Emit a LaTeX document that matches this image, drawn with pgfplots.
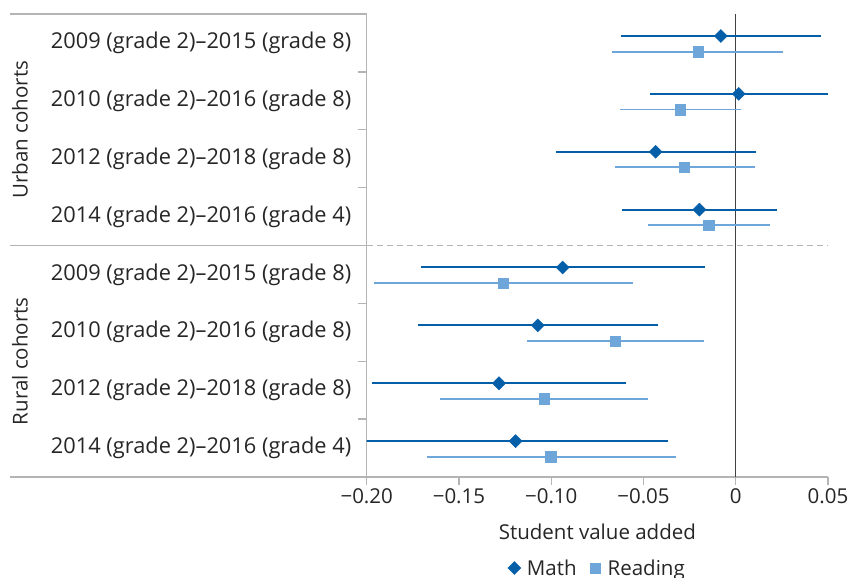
\documentclass[border=0pt]{standalone}
\usepackage{fontspec}
\setmainfont{Open Sans}
\usepackage{pgfplots}
\pgfplotsset{compat=1.18}
\usepackage{pgfplotstable}
\definecolor{mathblue}{RGB}{4,94,168}
\definecolor{readblue}{RGB}{111,166,218}
\definecolor{axgray}{RGB}{180,180,180}
\definecolor{txt}{RGB}{38,38,38}

% estimate, lower bound, upper bound; y = position of the row
\pgfplotstableread{
x        y     lo       hi
-0.0081  7.62  -0.0623  0.0461
0.0016   6.62  -0.0464  0.0499
-0.0434  5.62  -0.0972  0.0111
-0.0197  4.62  -0.0616  0.0222
-0.0938  3.62  -0.1705  -0.0166
-0.1073  2.62  -0.1723  -0.0419
-0.1283  1.62  -0.1970  -0.0593
-0.1193  0.62  -0.2017  -0.0369
}\mathdata

\pgfplotstableread{
x        y     lo       hi
-0.0203  7.35  -0.0669  0.0256
-0.0301  6.35  -0.0627  0.0027
-0.0279  5.35  -0.0653  0.0105
-0.0148  4.35  -0.0477  0.0186
-0.1260  3.35  -0.1959  -0.0559
-0.0653  2.35  -0.1133  -0.0172
-0.1037  1.35  -0.1601  -0.0477
-0.1003  0.35  -0.1675  -0.0325
}\readdata

\begin{document}
\begin{tikzpicture}[font=\fontsize{20.5bp}{24bp}\selectfont, text=txt]
\useasboundingbox (0,0) rectangle (851bp,-578bp);
\begin{axis}[
  at={(366.7bp,-477bp)}, anchor=south west,
  width=461.3bp, height=463bp, scale only axis,
  xmin=-0.2, xmax=0.05, ymin=0, ymax=8,
  axis x line*=bottom, axis y line*=left,
  axis line style={axgray, line width=1.3bp},
  tick align=outside, major tick length=8bp,
  xtick={-0.2,-0.15,-0.1,-0.05,0,0.05},
  xticklabels={−0.20,−0.15,−0.10,−0.05,0,0.05},
  xtick style={axgray, line width=1.3bp},
  ytick={0.5,1.5,...,7.5},
  yticklabels={2014 (grade 2)–2016 (grade 4),2012 (grade 2)–2018 (grade 8),2010 (grade 2)–2016 (grade 8),2009 (grade 2)–2015 (grade 8),2014 (grade 2)–2016 (grade 4),2012 (grade 2)–2018 (grade 8),2010 (grade 2)–2016 (grade 8),2009 (grade 2)–2015 (grade 8)},
  ytick style={draw=none},
  yticklabel style={xshift=-4bp, font=\fontsize{21.8bp}{24bp}\selectfont},
  xlabel={Student value added},
  xlabel style={at={(axis description cs:0.5,0)}, anchor=center, yshift=-55bp},
  legend style={at={(axis description cs:0.5,0)}, anchor=center, yshift=-91bp,
    draw=none, fill=none, inner sep=0pt, legend columns=2,
    /tikz/every even column/.append style={column sep=10bp}},
  legend cell align=left,
  legend image code/.code={\path[draw=none, fill=none] (0bp,-1bp) rectangle (17bp,1bp);\draw[#1] plot coordinates {(6.5bp,0bp)};},
]
\draw[axgray, line width=1.3bp, dash pattern=on 6bp off 4bp] (axis cs:-0.2,4) -- (axis cs:0.05,4);
\draw[black!75, line width=1.4bp] (axis cs:0,0) -- (axis cs:0,8);
\addplot[color=mathblue, only marks, mark=square*, mark size=4.6bp,
  mark options={solid, draw=none, fill=mathblue, rotate=45},
  error bars/.cd, x dir=both, x explicit, error mark=none,
  error bar style={mathblue, line width=2bp}]
  table[x=x, y=y, x error plus expr=\thisrow{hi}-\thisrow{x}, x error minus expr=\thisrow{x}-\thisrow{lo}] {\mathdata};
\addlegendentry{Math}
\addplot[color=readblue, only marks, mark=square*, mark size=5.3bp,
  mark options={solid, draw=none, fill=readblue},
  error bars/.cd, x dir=both, x explicit, error mark=none,
  error bar style={readblue, line width=1.8bp}]
  table[x=x, y=y, x error plus expr=\thisrow{hi}-\thisrow{x}, x error minus expr=\thisrow{x}-\thisrow{lo}] {\readdata};
\addlegendentry{Reading}
\end{axis}
% frame lines of the label column
\draw[axgray, line width=1.3bp] (10bp,-14bp) -- (366.7bp,-14bp);
\draw[axgray, line width=1.3bp] (10bp,-245.5bp) -- (366.7bp,-245.5bp);
\draw[axgray, line width=1.3bp] (10bp,-477bp) -- (366.7bp,-477bp);
\foreach \yy in {71.9,129.75,187.6,303.4,361.25,419.1}
  \draw[axgray, line width=1.3bp] (357.7bp,-\yy bp) -- (366.7bp,-\yy bp);
\node[rotate=90] at (20bp,-129.75bp) {Urban cohorts};
\node[rotate=90] at (20bp,-361.25bp) {Rural cohorts};
\end{tikzpicture}
\end{document}
